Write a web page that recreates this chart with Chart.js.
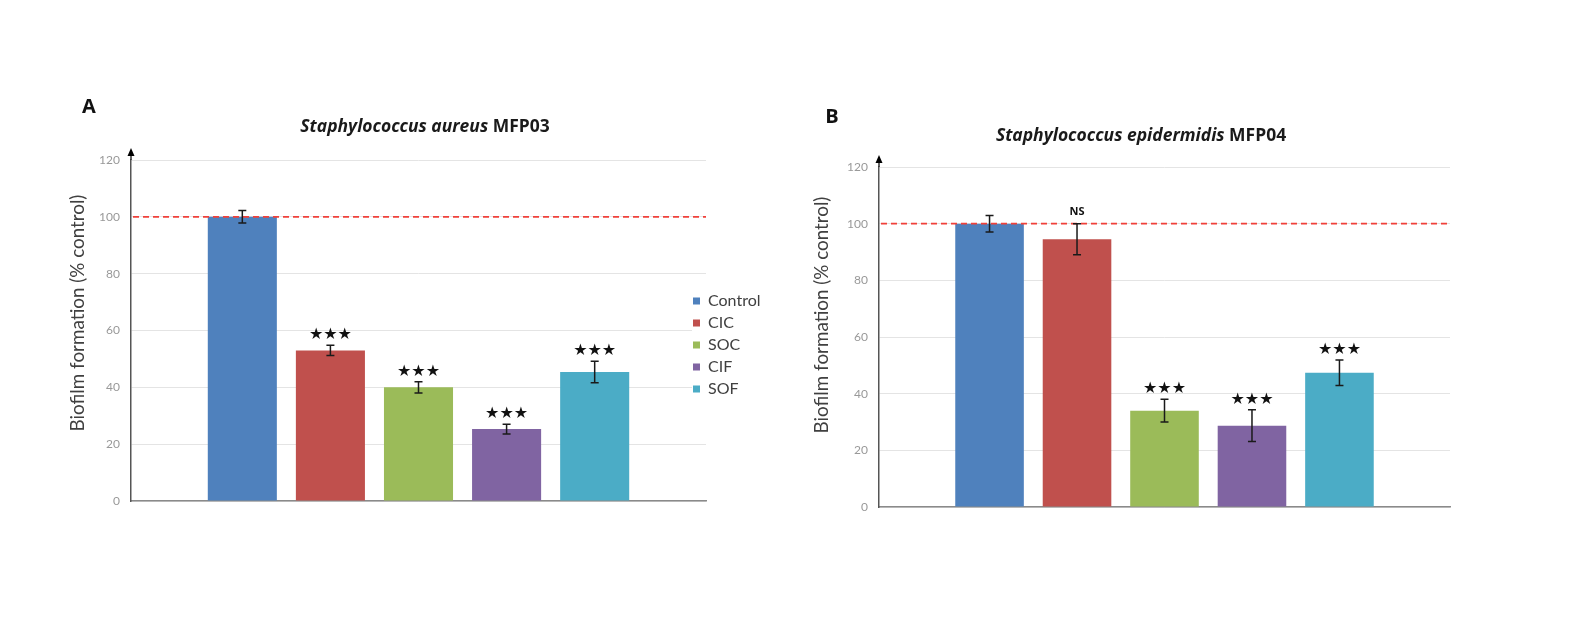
<!DOCTYPE html>
<html><head><meta charset="utf-8">
<script src="https://cdn.jsdelivr.net/npm/chart.js@4.4.1/dist/chart.umd.min.js"></script>
<style>
html,body{margin:0;padding:0;background:#fff;width:1572px;height:618px;overflow:hidden}
canvas{position:absolute;top:0}
#cA{left:0} #cB{left:786px}
</style></head><body>
<canvas id="cA" width="786" height="618"></canvas>
<canvas id="cB" width="786" height="618"></canvas>
<script>
// ---------- data ----------
const groups = ['Control', 'CIC', 'SOC', 'CIF', 'SOF'];
const colors = ['#4F81BD', '#C0504D', '#9BBB59', '#8064A2', '#4BACC6'];
const valuesA = [100, 53, 40, 25.3, 45.4];
const errorsA = [2.2, 1.8, 2.0, 1.7, 3.8];
const sigA = ['', '★★★', '★★★', '★★★', '★★★'];
const valuesB = [100, 94.5, 34, 28.7, 47.4];
const errorsB = [2.9, 5.5, 4.0, 5.6, 4.5];
const sigB = ['', 'NS', '★★★', '★★★', '★★★'];
const yTicks = [0, 20, 40, 60, 80, 100, 120];
const controlLevel = 100;
const yTitle = 'Biofilm formation (% control)';
const titleA = ['Staphylococcus aureus', 'MFP03'];
const titleB = ['Staphylococcus epidermidis', 'MFP04'];

const FONT = 'Lato, "Open Sans", sans-serif';
const TFONT = '"Open Sans", Lato, sans-serif';

// ---------- plugins ----------
const errorBars = {
  id: 'errorBars',
  afterDatasetsDraw(chart) {
    const ctx = chart.ctx, y = chart.scales.y, area = chart.chartArea;
    const yr = y.getPixelForValue(controlLevel);
    ctx.save();
    ctx.strokeStyle = '#F0413A';
    ctx.lineWidth = 1.6;
    ctx.setLineDash([6, 4]);
    ctx.beginPath(); ctx.moveTo(area.left + 2, yr); ctx.lineTo(area.right, yr); ctx.stroke();
    ctx.restore();
    chart.data.datasets.forEach((ds, i) => {
      const el = chart.getDatasetMeta(i).data[0];
      const v = ds.data[0], e = ds.errors[0];
      const x = el.x, t = y.getPixelForValue(v + e), b = y.getPixelForValue(v - e);
      ctx.save();
      ctx.strokeStyle = '#1a1a1a'; ctx.lineWidth = 1.5;
      ctx.beginPath();
      ctx.moveTo(x, t); ctx.lineTo(x, b);
      ctx.moveTo(x - 4, t); ctx.lineTo(x + 4, t);
      ctx.moveTo(x - 4, b); ctx.lineTo(x + 4, b);
      ctx.stroke();
      if (ds.sig) {
        ctx.fillStyle = '#111';
        ctx.textAlign = 'center'; ctx.textBaseline = 'middle';
        if (ds.sig === 'NS') {
          ctx.font = 'bold 11px ' + TFONT;
          ctx.fillText(ds.sig, x, t - 12);
        } else {
          ctx.font = '16px "DejaVu Sans"';
          ctx.fillText(ds.sig, x, t - 10);
        }
      }
      ctx.restore();
    });
  }
};

function fitSize(ctx, style, family, text, width, base) {
  ctx.font = style + ' ' + base + 'px ' + family;
  return base * width / ctx.measureText(text).width;
}

const panelText = {
  id: 'panelText',
  afterLayout(chart, args, o) {
    const lg = chart.legend;
    if (o.legendLeft !== undefined && lg && lg.options.display) {
      lg.left = o.legendLeft; lg.top = o.legendTop;
      lg.right = lg.left + lg.width; lg.bottom = lg.top + lg.height;
      if (!lg.__bg) {
        const orig = lg.draw;
        lg.draw = function () {
          const c = this.ctx, pad = this.options.labels.padding;
          const n = this.legendItems ? this.legendItems.length : 0;
          c.save(); c.fillStyle = '#fff';
          c.fillRect(this.left + pad - 1, this.top, this.width, pad + n * (this.options.labels.font.size + pad));
          c.restore();
          orig.call(this);
        };
        lg.__bg = true;
      }
    }
  },
  afterDraw(chart, args, o) {
    const ctx = chart.ctx, y = chart.scales.y;
    const ax = chart.chartArea.left, yt = y.getPixelForValue(yTicks[yTicks.length - 1]);
    ctx.save();
    // axis arrow
    ctx.strokeStyle = '#333'; ctx.lineWidth = 1.5;
    ctx.beginPath(); ctx.moveTo(ax, yt); ctx.lineTo(ax, yt - 6); ctx.stroke();
    ctx.fillStyle = '#000';
    ctx.beginPath(); ctx.moveTo(ax, yt - 12); ctx.lineTo(ax - 3.5, yt - 4); ctx.lineTo(ax + 3.5, yt - 4); ctx.closePath(); ctx.fill();
    // panel label
    ctx.fillStyle = '#111'; ctx.textAlign = 'center'; ctx.textBaseline = 'middle';
    ctx.font = 'bold 20px ' + TFONT;
    ctx.fillText(o.label, o.labelX, o.labelY);
    // title: italic species + plain strain, sized to the reference width
    const full = o.title[0] + ' ' + o.title[1];
    const size = fitSize(ctx, 'italic bold', TFONT, full, o.titleW, 16);
    const f1 = 'italic bold ' + size + 'px ' + TFONT, f2 = 'bold ' + size + 'px ' + TFONT;
    ctx.font = f1; const w1 = ctx.measureText(o.title[0] + ' ').width;
    ctx.font = f2; const w2 = ctx.measureText(o.title[1]).width;
    const sx = o.titleX - (w1 + w2) / 2;
    ctx.textAlign = 'left'; ctx.fillStyle = '#1a1a1a';
    ctx.font = f1; ctx.fillText(o.title[0] + ' ', sx, o.titleY);
    ctx.font = f2; ctx.fillText(o.title[1], sx + w1, o.titleY);
    // y title
    const ys = fitSize(ctx, '', FONT, yTitle, 237, 16);
    ctx.translate(o.yTitleX, o.yTitleY); ctx.rotate(-Math.PI / 2);
    ctx.textAlign = 'center'; ctx.fillStyle = '#404040';
    ctx.font = ys + 'px ' + FONT;
    ctx.fillText(yTitle, 0, 0);
    ctx.restore();
  }
};

function makeChart(id, values, errors, sig, p) {
  return new Chart(document.getElementById(id), {
    type: 'bar',
    data: {
      labels: [''],
      datasets: groups.map((g, i) => ({
        label: g, data: [values[i]], errors: [errors[i]], sig: sig[i],
        backgroundColor: colors[i], borderWidth: 0,
        categoryPercentage: 0.766, barPercentage: 0.784
      }))
    },
    options: {
      responsive: false, animation: false, events: [],
      layout: { padding: { left: 0, right: p.padRight, top: p.padTop, bottom: p.padBottom } },
      scales: {
        x: {
          grid: { display: false, drawTicks: false },
          ticks: { display: false },
          border: { display: true, color: '#8A8A8A', width: 1.5 }
        },
        y: {
          min: 0, max: 120,
          afterBuildTicks: s => { s.ticks = yTicks.map(v => ({ value: v })); },
          afterFit: s => { s.width = p.axisX; },
          grid: { color: '#E4E4E4', lineWidth: 1, drawTicks: false, z: -1 },
          border: { color: '#555', width: 1.5 },
          ticks: { padding: 11, color: '#999999', font: { family: FONT, size: 12 } }
        }
      },
      plugins: {
        tooltip: { enabled: false },
        legend: {
          display: p.legend, position: 'chartArea', align: 'start',
          labels: { boxWidth: 7, boxHeight: 7, padding: 6, color: '#404040', font: { family: FONT, size: 16 } }
        },
        panelText: p.text
      }
    },
    plugins: [errorBars, panelText]
  });
}

makeChart('cA', valuesA, errorsA, sigA, {
  axisX: 131, padRight: 80, padTop: 160, padBottom: 117, legend: true,
  text: { label: 'A', labelX: 89, labelY: 107, title: titleA, titleX: 425, titleY: 127, titleW: 247,
          yTitleX: 78, yTitleY: 313, legendLeft: 687, legendTop: 287 }
});
makeChart('cB', valuesB, errorsB, sigB, {
  axisX: 93, padRight: 122, padTop: 167, padBottom: 111, legend: false,
  text: { label: 'B', labelX: 46, labelY: 117, title: titleB, titleX: 355, titleY: 136, titleW: 288,
          yTitleX: 36, yTitleY: 315 }
});
</script>
</body></html>
